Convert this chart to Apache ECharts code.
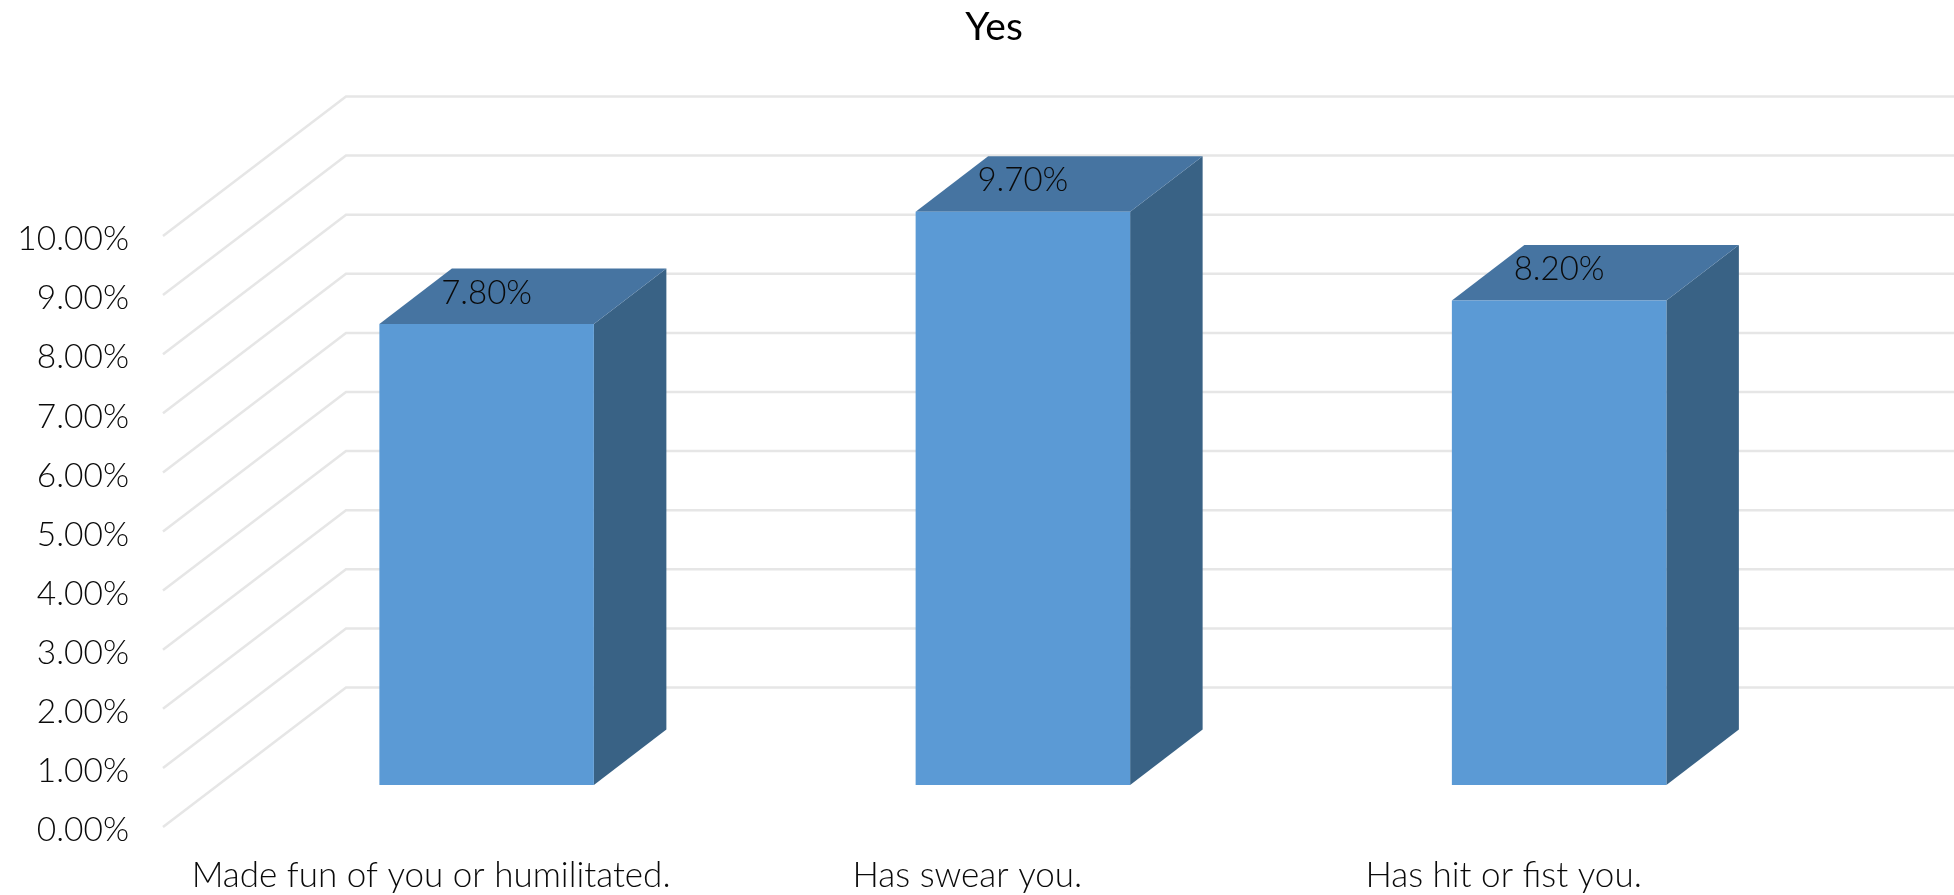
<!DOCTYPE html>
<html>
<head>
<meta charset="utf-8">
<title>Yes</title>
<style>
  html, body { margin: 0; padding: 0; background: #fff; }
  #chart { width: 1954px; height: 895px; }
</style>
<script src="https://cdn.jsdelivr.net/npm/echarts@6/dist/echarts.min.js"></script>
</head>
<body>
<div id="chart"></div>
<script>
// Share of respondents answering "Yes" to each question, in percent.
const chartTitle = 'Yes';
const categories = ['Made fun of you or humilitated.', 'Has swear you.', 'Has hit or fist you.'];
const yesValues = [7.8, 9.7, 8.2];
const valueTicks = [0, 1, 2, 3, 4, 5, 6, 7, 8, 9, 10];

// Oblique projection used to fake the 3D column look (screen px).
const FONT = 'Lato, "Open Sans", sans-serif';
const TEXT_COLOR = '#0a0a0a';
const FLOOR_DEPTH = { x: 183, y: -139.5 };   // front of the side wall to the back wall
const BAR_NEAR = { x: 55.5, y: -42 };        // front of the side wall to the column's front face
const BAR_DEPTH = { x: 72.5, y: -55.5 };     // column thickness
const BAR_WIDTH_RATIO = 0.4;
const WALL_RIGHT_EDGE = 1954;

const percent = v => v.toFixed(2) + '%';

// One gridline per tick: up the side wall, then across the back wall.
function renderWallLine(params, api) {
  const left = params.coordSys.x;
  const y = api.coord([0, api.value(1)])[1];
  return {
    type: 'polyline',
    silent: true,
    shape: {
      points: [
        [left, y],
        [left + FLOOR_DEPTH.x, y + FLOOR_DEPTH.y],
        [WALL_RIGHT_EDGE, y + FLOOR_DEPTH.y]
      ]
    },
    style: { fill: null, stroke: '#e6e6e6', lineWidth: 2.5 }
  };
}

// A column with front, top and side faces plus its value label on the top face.
function renderColumn(params, api) {
  const value = api.value(1);
  const base = api.coord([api.value(0), 0]);
  const top = api.coord([api.value(0), value]);
  const w = api.size([1, 0])[0] * BAR_WIDTH_RATIO;
  const x0 = base[0] + BAR_NEAR.x - w / 2;
  const x1 = x0 + w;
  const yBase = base[1] + BAR_NEAR.y;
  const yTop = top[1] + BAR_NEAR.y;
  const dx = BAR_DEPTH.x, dy = BAR_DEPTH.y;
  return {
    type: 'group',
    children: [
      {
        type: 'polygon',
        shape: { points: [[x1, yTop], [x1 + dx, yTop + dy], [x1 + dx, yBase + dy], [x1, yBase]] },
        style: { fill: '#396285' }
      },
      {
        type: 'polygon',
        shape: { points: [[x0, yTop], [x0 + dx, yTop + dy], [x1 + dx, yTop + dy], [x1, yTop]] },
        style: { fill: '#4674a1' }
      },
      {
        type: 'rect',
        shape: { x: x0, y: yTop, width: w, height: yBase - yTop },
        style: { fill: '#5b9ad5' }
      },
      {
        type: 'text',
        style: {
          x: (x0 + x1) / 2,
          y: yTop - 31,
          text: percent(value),
          align: 'center',
          verticalAlign: 'middle',
          fill: TEXT_COLOR,
          font: '300 33px ' + FONT
        }
      }
    ]
  };
}

const chart = echarts.init(document.getElementById('chart'));
chart.setOption({
  animation: false,
  backgroundColor: '#ffffff',
  title: {
    text: chartTitle,
    left: 989,
    top: 3,
    textAlign: 'center',
    textStyle: { fontFamily: FONT, fontSize: 39, fontWeight: 400, color: '#000000' }
  },
  grid: { left: 163, top: 236, width: 1608.75, height: 591 },
  xAxis: {
    type: 'category',
    data: categories,
    axisLine: { show: false },
    axisTick: { show: false },
    axisLabel: {
      interval: 0,
      margin: 31,
      fontFamily: FONT,
      fontSize: 35,
      fontWeight: 300,
      color: TEXT_COLOR
    }
  },
  yAxis: {
    type: 'value',
    min: 0,
    max: 10,
    interval: 1,
    axisLine: { show: false },
    axisTick: { show: false },
    splitLine: { show: false },
    axisLabel: {
      margin: 34,
      // A short line box anchored at its top drops the text just below the tick.
      verticalAlign: 'top',
      lineHeight: 7,
      fontFamily: FONT,
      fontSize: 33.5,
      fontWeight: 300,
      color: TEXT_COLOR,
      formatter: v => percent(v)
    }
  },
  series: [
    {
      name: 'Gridlines',
      type: 'custom',
      clip: false,
      silent: true,
      z: 1,
      renderItem: renderWallLine,
      data: valueTicks.map(t => [0, t])
    },
    {
      name: chartTitle,
      type: 'custom',
      clip: false,
      z: 2,
      renderItem: renderColumn,
      data: yesValues.map((v, i) => [i, v])
    }
  ]
});
</script>
</body>
</html>
